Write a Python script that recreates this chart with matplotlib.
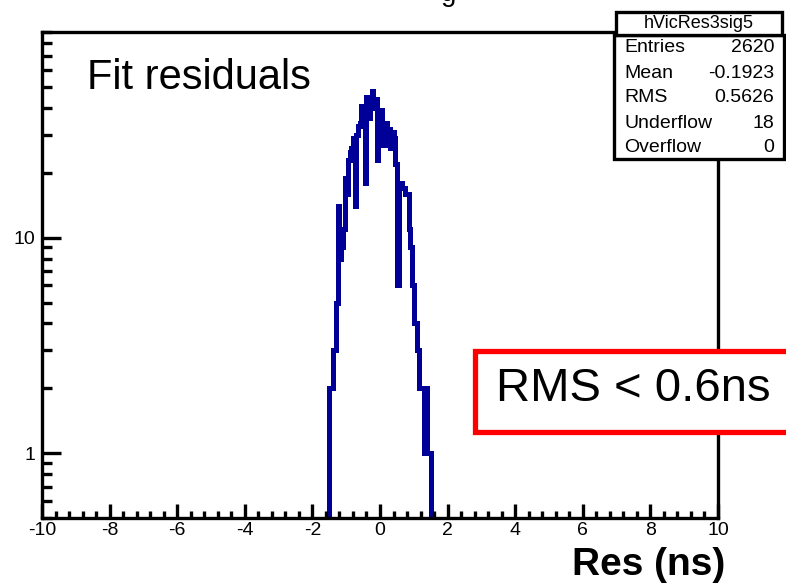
import matplotlib
matplotlib.use("Agg")
import matplotlib.pyplot as plt
from matplotlib.patches import Rectangle
from matplotlib.ticker import FixedLocator, NullFormatter
import numpy as np

plt.rcParams['font.family'] = ['Liberation Sans', 'DejaVu Sans']

# histogram contents (bin width 0.05 from -1.5 to 1.5)
bin_lo, bin_hi = -1.5, 1.5
counts = [2, 2, 3, 3, 5, 14, 8, 9, 11, 19, 16, 23, 25, 26, 29, 14, 30, 33, 34, 41,
          38, 18, 45, 36, 42, 48, 40, 44, 23, 38, 39, 33, 27, 34, 31, 32, 26, 31, 29, 22,
          6, 18, 18, 17, 17, 16, 16, 11, 9, 6, 4, 4, 3, 2, 2, 2, 1, 2, 1, 1]
edges = np.linspace(bin_lo, bin_hi, len(counts) + 1)

x_ticks = [-10, -8, -6, -4, -2, 0, 2, 4, 6, 8, 10]
y_major = [1, 10]
y_minor = [0.5, 0.6, 0.7, 0.8, 0.9, 2, 3, 4, 5, 6, 7, 8, 9, 20, 30, 40, 50, 60, 70, 80, 90]

stats_name = "hVicRes3sig5"
stats_rows = [("Entries", "2620"), ("Mean", "-0.1923"), ("RMS", "0.5626"),
              ("Underflow", "18"), ("Overflow", "0")]

W, H = 786, 583
fig = plt.figure(figsize=(W / 100, H / 100), dpi=100)


def fx(px):
    return px / W


def fy(py):
    return 1 - py / H


ax = fig.add_axes([fx(42), fy(518), fx(718) - fx(42), fy(32) - fy(518)])
ax.stairs(counts, edges, baseline=0.01, color='#000099', lw=3.6)

ax.set_yscale('log')
ax.set_xlim(-10, 10)
ax.set_ylim(0.5, 90)

ax.xaxis.set_major_locator(FixedLocator(x_ticks))
ax.xaxis.set_minor_locator(FixedLocator(np.arange(-10, 10.01, 0.4)))
ax.set_xticklabels([str(v) for v in x_ticks])
ax.yaxis.set_major_locator(FixedLocator(y_major))
ax.yaxis.set_minor_locator(FixedLocator(y_minor))
ax.yaxis.set_minor_formatter(NullFormatter())
ax.set_yticklabels([str(v) for v in y_major])

ax.tick_params(axis='x', which='major', direction='in', length=10, width=2.4,
               labelsize=14, pad=3, top=False)
ax.tick_params(axis='x', which='minor', direction='in', length=5, width=2.4, top=False)
ax.tick_params(axis='y', which='major', direction='in', length=14, width=2.4,
               labelsize=14, pad=5, right=False)
ax.tick_params(axis='y', which='minor', direction='in', length=7, width=2.4, right=False)
for s in ax.spines.values():
    s.set_linewidth(2.4)

fig.text(fx(87), fy(89), "Fit residuals", fontsize=30, va='baseline', ha='left')
fig.text(fx(725), fy(575), "Res (ns)", fontsize=28, fontweight='bold',
         va='baseline', ha='right')

# title cut off at the very top, only a descender shows
fig.text(fx(441), fy(1), "g", fontsize=20, va='baseline', ha='left')

# stats box
fig.add_artist(Rectangle((fx(614), fy(159)), fx(784) - fx(614), fy(35) - fy(159),
                         transform=fig.transFigure, facecolor='white',
                         edgecolor='black', lw=2.4, zorder=10))
fig.add_artist(Rectangle((fx(616), fy(35)), fx(782) - fx(616), fy(12) - fy(35),
                         transform=fig.transFigure, facecolor='white',
                         edgecolor='black', lw=2.4, zorder=10))
fig.text(fx(699), fy(23), stats_name, fontsize=13, ha='center', va='center', zorder=11)
row_y = [48, 73, 98, 123, 147]
for (lab, val), yy in zip(stats_rows, row_y):
    fig.text(fx(624), fy(yy), lab, fontsize=14, ha='left', va='center', zorder=11)
    fig.text(fx(774), fy(yy), val, fontsize=14, ha='right', va='center', zorder=11)

# red annotation box
fig.add_artist(Rectangle((fx(475), fy(432)), fx(800) - fx(475), fy(351) - fy(432),
                         transform=fig.transFigure, facecolor='white',
                         edgecolor='#ff0000', lw=3.8, zorder=10))
fig.text(fx(496), fy(401), "RMS < 0.6ns", fontsize=34, va='baseline', ha='left', zorder=11)

fig.savefig("out.png", dpi=100)
